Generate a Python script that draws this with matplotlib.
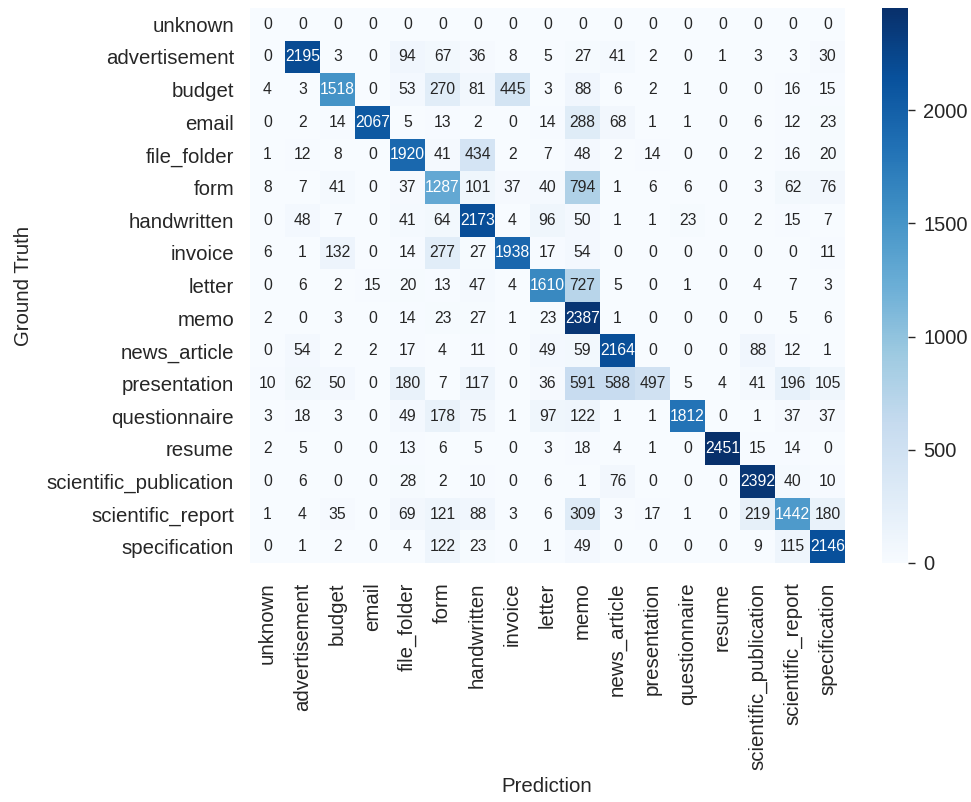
import numpy as np
import matplotlib
matplotlib.use("Agg")
import matplotlib.pyplot as plt
from matplotlib import colors as mcolors

plt.rcParams['font.family'] = ['Liberation Sans', 'DejaVu Sans']

labels = ["unknown", "advertisement", "budget", "email", "file_folder", "form",
          "handwritten", "invoice", "letter", "memo", "news_article",
          "presentation", "questionnaire", "resume", "scientific_publication",
          "scientific_report", "specification"]

row_unknown = [0, 0, 0, 0, 0, 0, 0, 0, 0, 0, 0, 0, 0, 0, 0, 0, 0]
row_advertisement = [0, 2195, 3, 0, 94, 67, 36, 8, 5, 27, 41, 2, 0, 1, 3, 3, 30]
row_budget = [4, 3, 1518, 0, 53, 270, 81, 445, 3, 88, 6, 2, 1, 0, 0, 16, 15]
row_email = [0, 2, 14, 2067, 5, 13, 2, 0, 14, 288, 68, 1, 1, 0, 6, 12, 23]
row_file_folder = [1, 12, 8, 0, 1920, 41, 434, 2, 7, 48, 2, 14, 0, 0, 2, 16, 20]
row_form = [8, 7, 41, 0, 37, 1287, 101, 37, 40, 794, 1, 6, 6, 0, 3, 62, 76]
row_handwritten = [0, 48, 7, 0, 41, 64, 2173, 4, 96, 50, 1, 1, 23, 0, 2, 15, 7]
row_invoice = [6, 1, 132, 0, 14, 277, 27, 1938, 17, 54, 0, 0, 0, 0, 0, 0, 11]
row_letter = [0, 6, 2, 15, 20, 13, 47, 4, 1610, 727, 5, 0, 1, 0, 4, 7, 3]
row_memo = [2, 0, 3, 0, 14, 23, 27, 1, 23, 2387, 1, 0, 0, 0, 0, 5, 6]
row_news_article = [0, 54, 2, 2, 17, 4, 11, 0, 49, 59, 2164, 0, 0, 0, 88, 12, 1]
row_presentation = [10, 62, 50, 0, 180, 7, 117, 0, 36, 591, 588, 497, 5, 4, 41, 196, 105]
row_questionnaire = [3, 18, 3, 0, 49, 178, 75, 1, 97, 122, 1, 1, 1812, 0, 1, 37, 37]
row_resume = [2, 5, 0, 0, 13, 6, 5, 0, 3, 18, 4, 1, 0, 2451, 15, 14, 0]
row_scientific_publication = [0, 6, 0, 0, 28, 2, 10, 0, 6, 1, 76, 0, 0, 0, 2392, 40, 10]
row_scientific_report = [1, 4, 35, 0, 69, 121, 88, 3, 6, 309, 3, 17, 1, 0, 219, 1442, 180]
row_specification = [0, 1, 2, 0, 4, 122, 23, 0, 1, 49, 0, 0, 0, 0, 9, 115, 2146]

matrix = np.array([row_unknown, row_advertisement, row_budget, row_email,
                   row_file_folder, row_form, row_handwritten, row_invoice,
                   row_letter, row_memo, row_news_article, row_presentation,
                   row_questionnaire, row_resume, row_scientific_publication,
                   row_scientific_report, row_specification])

cbar_ticks = [0, 500, 1000, 1500, 2000]

W, H = 971, 802
fig = plt.figure(figsize=(W / 100, H / 100), dpi=100)
fig.patch.set_facecolor("white")

ax = fig.add_axes([250 / W, 1 - 563 / H, 595 / W, 555 / H])
cax = fig.add_axes([882 / W, 1 - 563 / H, 26 / W, 555 / H])

cmap = plt.get_cmap("Blues")
norm = mcolors.Normalize(vmin=matrix.min(), vmax=matrix.max())
n = len(labels)
mesh = ax.pcolormesh(np.arange(n + 1), np.arange(n + 1), matrix, cmap=cmap, norm=norm)
ax.set_xlim(0, n)
ax.set_ylim(n, 0)


def rel_lum(rgb):
    rgb = np.array(rgb[:3])
    rgb = np.where(rgb <= 0.03928, rgb / 12.92, ((rgb + 0.055) / 1.055) ** 2.4)
    return rgb.dot([0.2126, 0.7152, 0.0722])


text_dark = "#262626"
for i in range(n):
    for j in range(n):
        v = matrix[i, j]
        c = cmap(norm(v))
        tc = "white" if rel_lum(c) < 0.408 else text_dark
        ax.text(j + 0.5, i + 0.5, f"{v:d}", ha="center", va="center",
                fontsize=11.3, color=tc)

for s in ax.spines.values():
    s.set_visible(False)

ax.set_xticks(np.arange(n) + 0.5)
ax.set_yticks(np.arange(n) + 0.5)
ax.set_xticklabels(labels, rotation=90, fontsize=14.7, color=text_dark)
ax.set_yticklabels(labels, rotation=0, fontsize=14.7, color=text_dark)
ax.tick_params(axis="x", length=0, pad=14)
ax.tick_params(axis="y", length=0, pad=11.5)

ax.set_xlabel("Prediction", fontsize=14.7, color=text_dark)
ax.set_ylabel("Ground Truth", fontsize=14.7, color=text_dark)
ax.xaxis.set_label_coords((547 - 250) / 595, -(777 - 563) / 555)
ax.yaxis.set_label_coords(-(250 - 33) / 595, 0.5)

cb = fig.colorbar(mesh, cax=cax, ticks=cbar_ticks)
cb.outline.set_linewidth(0)
cax.tick_params(length=5, width=1, color=text_dark, labelsize=14.5, labelcolor=text_dark, pad=6)

fig.savefig("out.png", dpi=100, facecolor="white")
